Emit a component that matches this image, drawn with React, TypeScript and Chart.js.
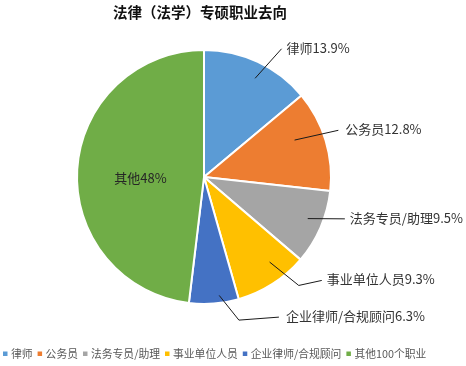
import React, { useEffect, useRef } from "react";
import { Chart, registerables } from "chart.js";

Chart.register(...registerables);

const TITLE = "法律（法学）专硕职业去向";
const CATEGORIES = ["律师", "公务员", "法务专员/助理", "事业单位人员", "企业律师/合规顾问", "其他"];
const LEGEND_LABELS = ["律师", "公务员", "法务专员/助理", "事业单位人员", "企业律师/合规顾问", "其他100个职业"];
const VALUES = [13.9, 12.8, 9.5, 9.3, 6.3, 48];
const VALUE_LABELS = ["13.9%", "12.8%", "9.5%", "9.3%", "6.3%", "48%"];
const COLORS = ["#5B9BD5", "#ED7D31", "#A5A5A5", "#FFC000", "#4472C4", "#70AD47"];

// leader-line layout (relative to each arc): radius factors and angle offsets in degrees
const LEADERS: any[] = [
  { r0: 0.875, a0: 2.3, r1: 1.18, a1: 6.1, tdx: 0, tdy: 0, gap: 5 },
  { r0: 0.77, a0: -5.4, r1: 1.12, a1: -2.4, tdx: 0, tdy: 0, gap: 7 },
  { r0: 0.88, a0: -1.6, r1: 1.157, a1: -6.9, tdx: 0, tdy: 0, gap: 5 },
  { r0: 0.846, a0: -5.0, r1: 1.134, a1: -8.5, tdx: 23, tdy: -5, gap: 5 },
  { r0: 0.94, a0: -2.8, r1: 1.16, a1: -9.2, tdx: 40, tdy: -3, gap: 7 },
  { inner: true, r: 0.5, a: -4 },
];

const FONT = '"Noto Sans CJK SC", "Noto Sans", sans-serif';

const decorPlugin = {
  id: "decor",
  afterDatasetsDraw(chart: any) {
    const ctx = chart.ctx as CanvasRenderingContext2D;
    const meta = chart.getDatasetMeta(0);
    const deg = Math.PI / 180;
    ctx.save();
    meta.data.forEach((arc: any, i: number) => {
      const { x, y, startAngle, endAngle, outerRadius } = arc.getProps(
        ["x", "y", "startAngle", "endAngle", "outerRadius"],
        true
      );
      const r = outerRadius;
      const mid = (startAngle + endAngle) / 2;
      const L = LEADERS[i];
      const text = CATEGORIES[i] + VALUE_LABELS[i];
      if (L.inner) {
        const a = mid + L.a * deg;
        const px = x + Math.cos(a) * r * L.r;
        const py = y + Math.sin(a) * r * L.r;
        ctx.font = `13px ${FONT}`;
        ctx.fillStyle = "#262626";
        ctx.textAlign = "center";
        ctx.textBaseline = "middle";
        ctx.fillText(text, px, py);
        return;
      }
      const a0 = mid + L.a0 * deg;
      const a1 = mid + L.a1 * deg;
      const sx = x + Math.cos(a0) * r * L.r0;
      const sy = y + Math.sin(a0) * r * L.r0;
      const ex = x + Math.cos(a1) * r * L.r1;
      const ey = y + Math.sin(a1) * r * L.r1;
      const fx = ex + L.tdx;
      const fy = ey + L.tdy;
      ctx.strokeStyle = "#1a1a1a";
      ctx.lineWidth = 1;
      ctx.beginPath();
      ctx.moveTo(sx, sy);
      ctx.lineTo(ex, ey);
      if (L.tdx || L.tdy) ctx.lineTo(fx, fy);
      ctx.stroke();
      ctx.font = `13px ${FONT}`;
      ctx.fillStyle = "#333333";
      ctx.textAlign = "left";
      ctx.textBaseline = "middle";
      ctx.fillText(text, fx + L.gap, fy - 1);
    });
    ctx.restore();
  },
  afterDraw(chart: any) {
    const ctx = chart.ctx as CanvasRenderingContext2D;
    ctx.save();
    // title
    ctx.font = `bold 14.5px ${FONT}`;
    ctx.fillStyle = "#111111";
    ctx.textAlign = "center";
    ctx.textBaseline = "middle";
    ctx.fillText(TITLE, 200, 12.5);
    // legend
    ctx.font = `10.8px ${FONT}`;
    ctx.textAlign = "left";
    ctx.textBaseline = "middle";
    let cx = 3;
    const cy = 354;
    LEGEND_LABELS.forEach((lab, i) => {
      ctx.fillStyle = COLORS[i];
      ctx.fillRect(cx, cy - 2.5, 4.5, 4.5);
      cx += 8;
      ctx.fillStyle = "#595959";
      ctx.fillText(lab, cx, cy);
      cx += ctx.measureText(lab).width + 5;
    });
    ctx.restore();
  },
};

export default function App() {
  const ref = useRef<HTMLCanvasElement>(null);
  useEffect(() => {
    if (!ref.current) return;
    const chart = new Chart(ref.current, {
      type: "pie",
      data: {
        labels: CATEGORIES,
        datasets: [
          {
            data: VALUES,
            backgroundColor: COLORS,
            borderColor: "#ffffff",
            borderWidth: 2,
          },
        ],
      },
      options: {
        responsive: false,
        animation: false,
        devicePixelRatio: 1,
        layout: { padding: { left: 76, top: 49, right: 134, bottom: 61 } },
        plugins: {
          legend: { display: false },
          title: { display: false },
          tooltip: { enabled: false },
        },
      },
      plugins: [decorPlugin],
    });
    return () => chart.destroy();
  }, []);
  return (
    <div style={{ position: "absolute", left: 0, top: 0, width: 466, height: 366, background: "#fff" }}>
      <canvas ref={ref} width={466} height={366} />
    </div>
  );
}
